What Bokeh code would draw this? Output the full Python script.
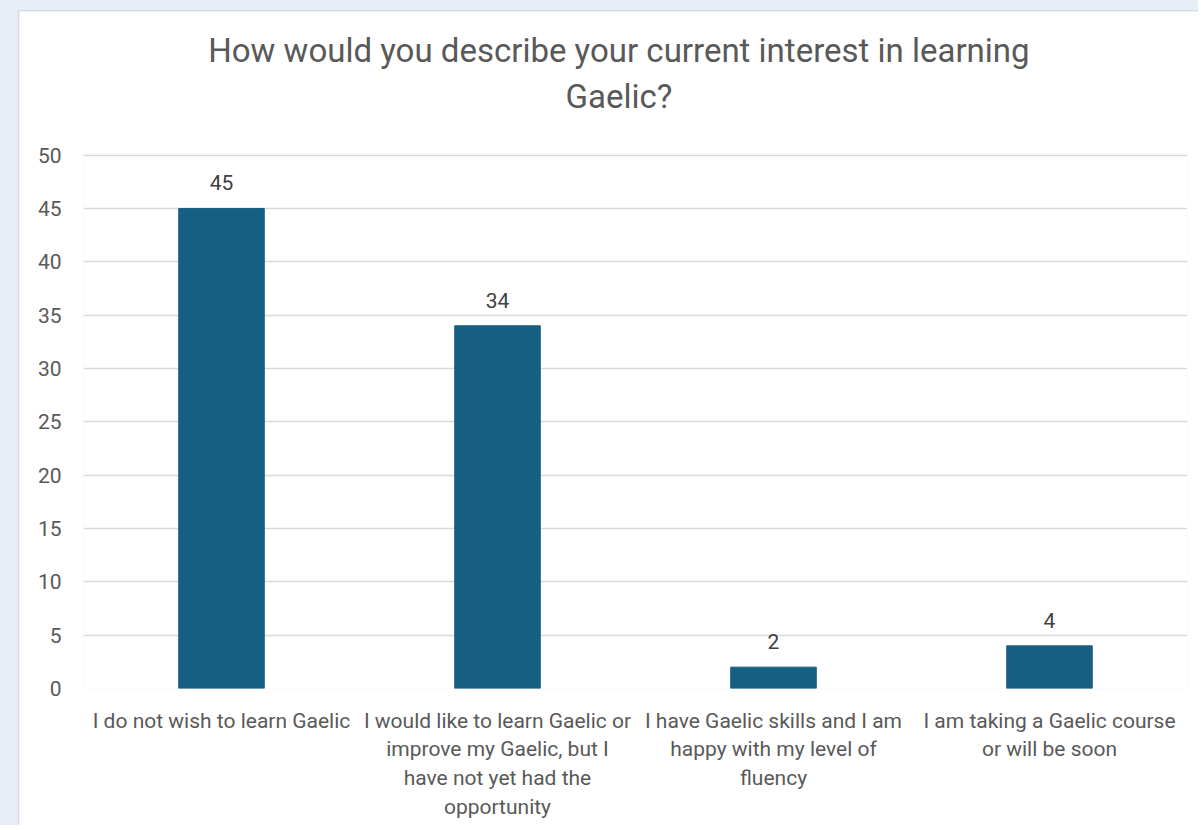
from bokeh.plotting import figure
from bokeh.models import ColumnDataSource, Range1d, LinearAxis, FixedTicker
from bokeh.layouts import column
from bokeh.embed import file_html
from bokeh.resources import INLINE
from bokeh.core.properties import value

title_text = "How would you describe your current interest in learning\nGaelic?"
categories = [
    "I do not wish to learn Gaelic",
    "I would like to learn Gaelic or\nimprove my Gaelic, but I\nhave not yet had the\nopportunity",
    "I have Gaelic skills and I am\nhappy with my level of\nfluency",
    "I am taking a Gaelic course\nor will be soon",
]
counts = [45, 34, 2, 4]
y_ticks = [0, 5, 10, 15, 20, 25, 30, 35, 40, 45, 50]

FONT = "Roboto"
BAR = "#156082"
GREY = "#595959"

# one slot per category, bar centred in its slot
positions = [i + 0.5 for i in range(len(categories))]
source = ColumnDataSource(dict(x=positions, val=counts, lab=[str(v) for v in counts]))

p = figure(
    width=1180, height=815,
    x_range=Range1d(0, len(categories)),
    y_range=Range1d(0, 50.15),
    output_backend="svg", toolbar_location=None,
    min_border_left=64, min_border_right=12, min_border_top=142, min_border_bottom=138,
)
p.outline_line_color = None
p.background_fill_color = "white"
p.border_fill_color = "white"

p.vbar(x="x", top="val", width=0.31, color=BAR, source=source)
p.text(x="x", y="val", text="lab", source=source, text_align="center",
       text_baseline="bottom", y_offset=-18, text_font=value(FONT),
       text_font_size="21px", text_color="#404040")

p.xgrid.grid_line_color = None
p.ygrid.grid_line_color = "#D9D9D9"
p.ygrid.grid_line_width = 1.5

p.yaxis.ticker = y_ticks
p.yaxis.axis_line_color = None
p.yaxis.major_tick_line_color = None
p.yaxis.minor_tick_line_color = None
p.yaxis.major_label_text_font = FONT
p.yaxis.major_label_text_font_size = "21px"
p.yaxis.major_label_text_color = GREY
p.yaxis.major_label_standoff = 16

p.xaxis.ticker = FixedTicker(ticks=positions)
p.xaxis.major_label_overrides = dict(zip(positions, categories))
p.xaxis.axis_line_color = None
p.xaxis.major_tick_line_color = None
p.xaxis.minor_tick_line_color = None
p.xaxis.major_label_text_font = FONT
p.xaxis.major_label_text_font_size = "21px"
p.xaxis.major_label_text_color = GREY
p.xaxis.major_label_text_line_height = 1.2
p.xaxis.major_label_standoff = 14

# chart title drawn as the single label of a hidden axis above the plot
title_pos = 1.94
title_axis = LinearAxis(ticker=FixedTicker(ticks=[title_pos]),
                        major_label_overrides={title_pos: title_text})
title_axis.axis_line_color = None
title_axis.major_tick_line_color = None
title_axis.minor_tick_line_color = None
title_axis.major_label_text_font = FONT
title_axis.major_label_text_font_size = "33px"
title_axis.major_label_text_color = GREY
title_axis.major_label_text_line_height = 1.17
title_axis.major_label_standoff = 32
p.add_layout(title_axis, "above")

p.styles = {"border-left": "1px solid #D9D9D9", "border-top": "1px solid #D9D9D9"}
layout = column(p, styles={"background-color": "#E8EEF7", "padding": "10px 0px 0px 18px"})

open("out.html", "w").write(file_html(layout, INLINE))
